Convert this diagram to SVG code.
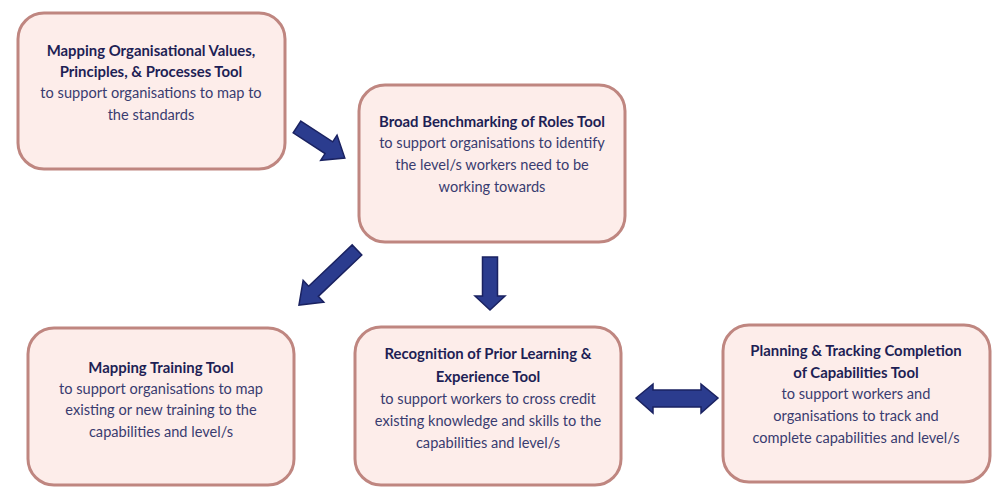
<svg xmlns="http://www.w3.org/2000/svg" width="1000" height="500" viewBox="0 0 1000 500">
<style>
.box{fill:#FDEDEA;stroke:#BF8680;stroke-width:3}
.t{font-family:Lato,"Liberation Sans",sans-serif;font-size:14.6px;text-anchor:middle;fill:#393C70}
.b{font-weight:bold;fill:#1E1F55;font-size:14.9px}
.arr{fill:#2B3C8E;stroke:#1A2261;stroke-width:1.5;stroke-linejoin:miter}
</style>
<rect width="1000" height="500" fill="#FFFFFF"/>
<g id="node-mapping-values">
<rect class="box" x="18" y="13" width="267" height="156" rx="26"/>
<text class="t b" x="151" y="56">Mapping Organisational Values,</text>
<text class="t b" x="151" y="77">Principles, &amp; Processes Tool</text>
<text class="t" x="151" y="98">to support organisations to map to</text>
<text class="t" x="151" y="120">the standards</text>
</g>
<g id="node-benchmarking">
<rect class="box" x="359" y="85" width="266" height="157" rx="26"/>
<text class="t b" x="492" y="127">Broad Benchmarking of Roles Tool</text>
<text class="t" x="492" y="148">to support organisations to identify</text>
<text class="t" x="492" y="170">the level/s workers need to be</text>
<text class="t" x="492" y="192">working towards</text>
</g>
<g id="node-mapping-training">
<rect class="box" x="28" y="328" width="266" height="157" rx="26"/>
<text class="t b" x="161" y="373">Mapping Training Tool</text>
<text class="t" x="161" y="394">to support organisations to map</text>
<text class="t" x="161" y="415">existing or new training to the</text>
<text class="t" x="161" y="437">capabilities and level/s</text>
</g>
<g id="node-rpl">
<rect class="box" x="355" y="327" width="266" height="158" rx="26"/>
<text class="t b" x="488" y="359">Recognition of Prior Learning &amp;</text>
<text class="t b" x="488" y="382">Experience Tool</text>
<text class="t" x="488" y="404">to support workers to cross credit</text>
<text class="t" x="488" y="426">existing knowledge and skills to the</text>
<text class="t" x="488" y="448">capabilities and level/s</text>
</g>
<g id="node-planning">
<rect class="box" x="723" y="325" width="267" height="157" rx="26"/>
<text class="t b" x="856" y="356">Planning &amp; Tracking Completion</text>
<text class="t b" x="856" y="378">of Capabilities Tool</text>
<text class="t" x="856" y="399">to support workers and</text>
<text class="t" x="856" y="421">organisations to track and</text>
<text class="t" x="856" y="443">complete capabilities and level/s</text>
</g>
<g id="connectors">
<path class="arr" transform="translate(297,127) rotate(33)" d="M0,-7 L38,-7 L38,-15 L57,0 L38,15 L38,7 L0,7 Z"/>
<path class="arr" transform="translate(357,250) rotate(136.5)" d="M0,-7 L60,-7 L60,-15 L80,0 L60,15 L60,7 L0,7 Z"/>
<path class="arr" transform="translate(490,257) rotate(90)" d="M0,-7.5 L39,-7.5 L39,-15 L53,0 L39,15 L39,7.5 L0,7.5 Z"/>
<path class="arr" d="M636,398 L653,384 L653,390 L701,390 L701,384 L718,398 L701,413 L701,407 L653,407 L653,413 Z"/>
</g>
</svg>
